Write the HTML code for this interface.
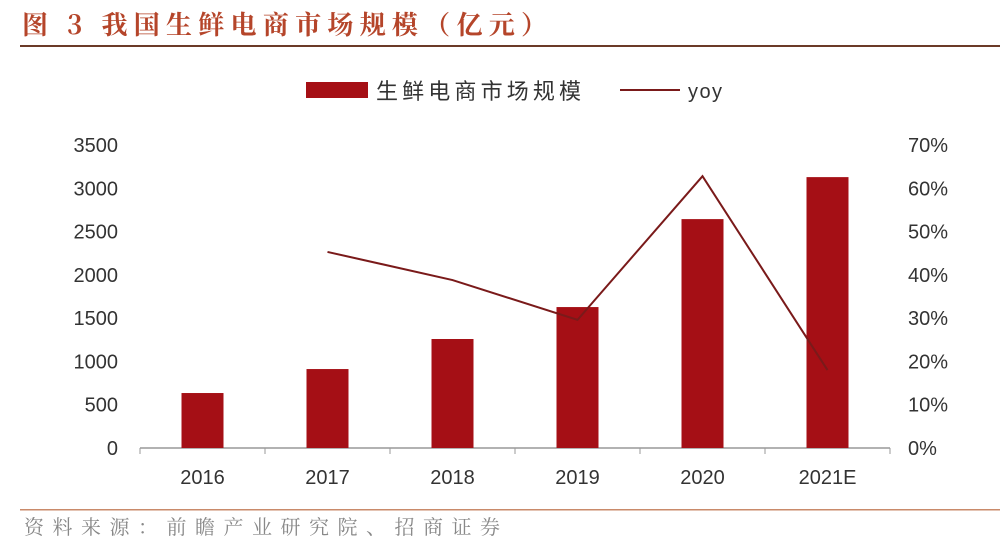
<!DOCTYPE html>
<html><head><meta charset="utf-8"><style>
body{margin:0;background:#fff;width:1000px;height:551px;overflow:hidden;font-family:"Liberation Sans","Noto Sans CJK SC",sans-serif;}
</style></head><body>
<svg width="1000" height="551" xmlns="http://www.w3.org/2000/svg">
<text x="22" y="34" font-size="26" font-weight="bold" fill="#b5452a" textLength="525" lengthAdjust="spacing" font-family="'Noto Serif CJK SC','Noto Sans CJK SC',sans-serif">图 3 我国生鲜电商市场规模（亿元）</text>
<rect x="20" y="45" width="980" height="2" fill="#6b3a28"/>
<rect x="306" y="82" width="62" height="16" fill="#a50f15"/>
<text x="376" y="99" font-size="22" fill="#333" textLength="205" lengthAdjust="spacing">生鲜电商市场规模</text>
<line x1="620" y1="90" x2="680" y2="90" stroke="#7a1a1a" stroke-width="2"/>
<text x="688" y="98" font-size="20" fill="#333" textLength="34" lengthAdjust="spacing">yoy</text>
<g id="axes"></g>
<g id="marks"></g>
<rect x="20" y="509" width="980" height="1.5" fill="#c98a6a"/>
<text x="24" y="534" font-size="20" fill="#888" textLength="476" lengthAdjust="spacing" font-family="'Noto Serif CJK SC',serif">资料来源：前瞻产业研究院、招商证券</text>
</svg>
<script>
const categories=["2016","2017","2018","2019","2020","2021E"];
const marketSize=[635,912,1259,1628,2644,3129];
const yoy=[null,45.3,38.8,29.6,62.8,18];
const leftTicks=[0,500,1000,1500,2000,2500,3000,3500];
const rightTicks=[0,10,20,30,40,50,60,70];
const NS="http://www.w3.org/2000/svg";
const x0=140,x1=890,y0=448,y1=145;
const band=(x1-x0)/categories.length;
const xc=i=>x0+band*(i+0.5);
const yL=v=>y0-(v/3500)*(y0-y1);
const yR=v=>y0-(v/70)*(y0-y1);
function mk(tag,attrs,parent){const e=document.createElementNS(NS,tag);for(const k in attrs)e.setAttribute(k,attrs[k]);parent.appendChild(e);return e;}
const ax=document.getElementById('axes'),mg=document.getElementById('marks');
leftTicks.forEach(t=>{const e=mk('text',{x:118,y:yL(t)+7,'font-size':20,fill:'#333','text-anchor':'end'},ax);e.textContent=t;

});
rightTicks.forEach(t=>{const e=mk('text',{x:908,y:yR(t)+7,'font-size':20,fill:'#333'},ax);e.textContent=t+'%';

});
const base=mk('line',{x1:x0,y1:y0,x2:x1,y2:y0,stroke:'#999','stroke-width':1.5},ax);


categories.forEach((c,i)=>{
const tk=mk('line',{x1:x0+band*i,y1:y0,x2:x0+band*i,y2:y0+6,stroke:'#999'},ax);


const e=mk('text',{x:xc(i),y:y0+36,'font-size':20,fill:'#333','text-anchor':'middle'},ax);e.textContent=c;


const b=mk('rect',{x:xc(i)-21,y:yL(marketSize[i]),width:42,height:y0-yL(marketSize[i]),fill:'#a50f15'},mg);


});
const tk2=mk('line',{x1:x1,y1:y0,x2:x1,y2:y0+6,stroke:'#999'},ax);


const pts=[];yoy.forEach((v,i)=>{if(v!==null)pts.push(xc(i)+','+yR(v));});
const pl=mk('polyline',{points:pts.join(' '),fill:'none',stroke:'#7a1a1a','stroke-width':2},mg);


</script>
</body></html>
